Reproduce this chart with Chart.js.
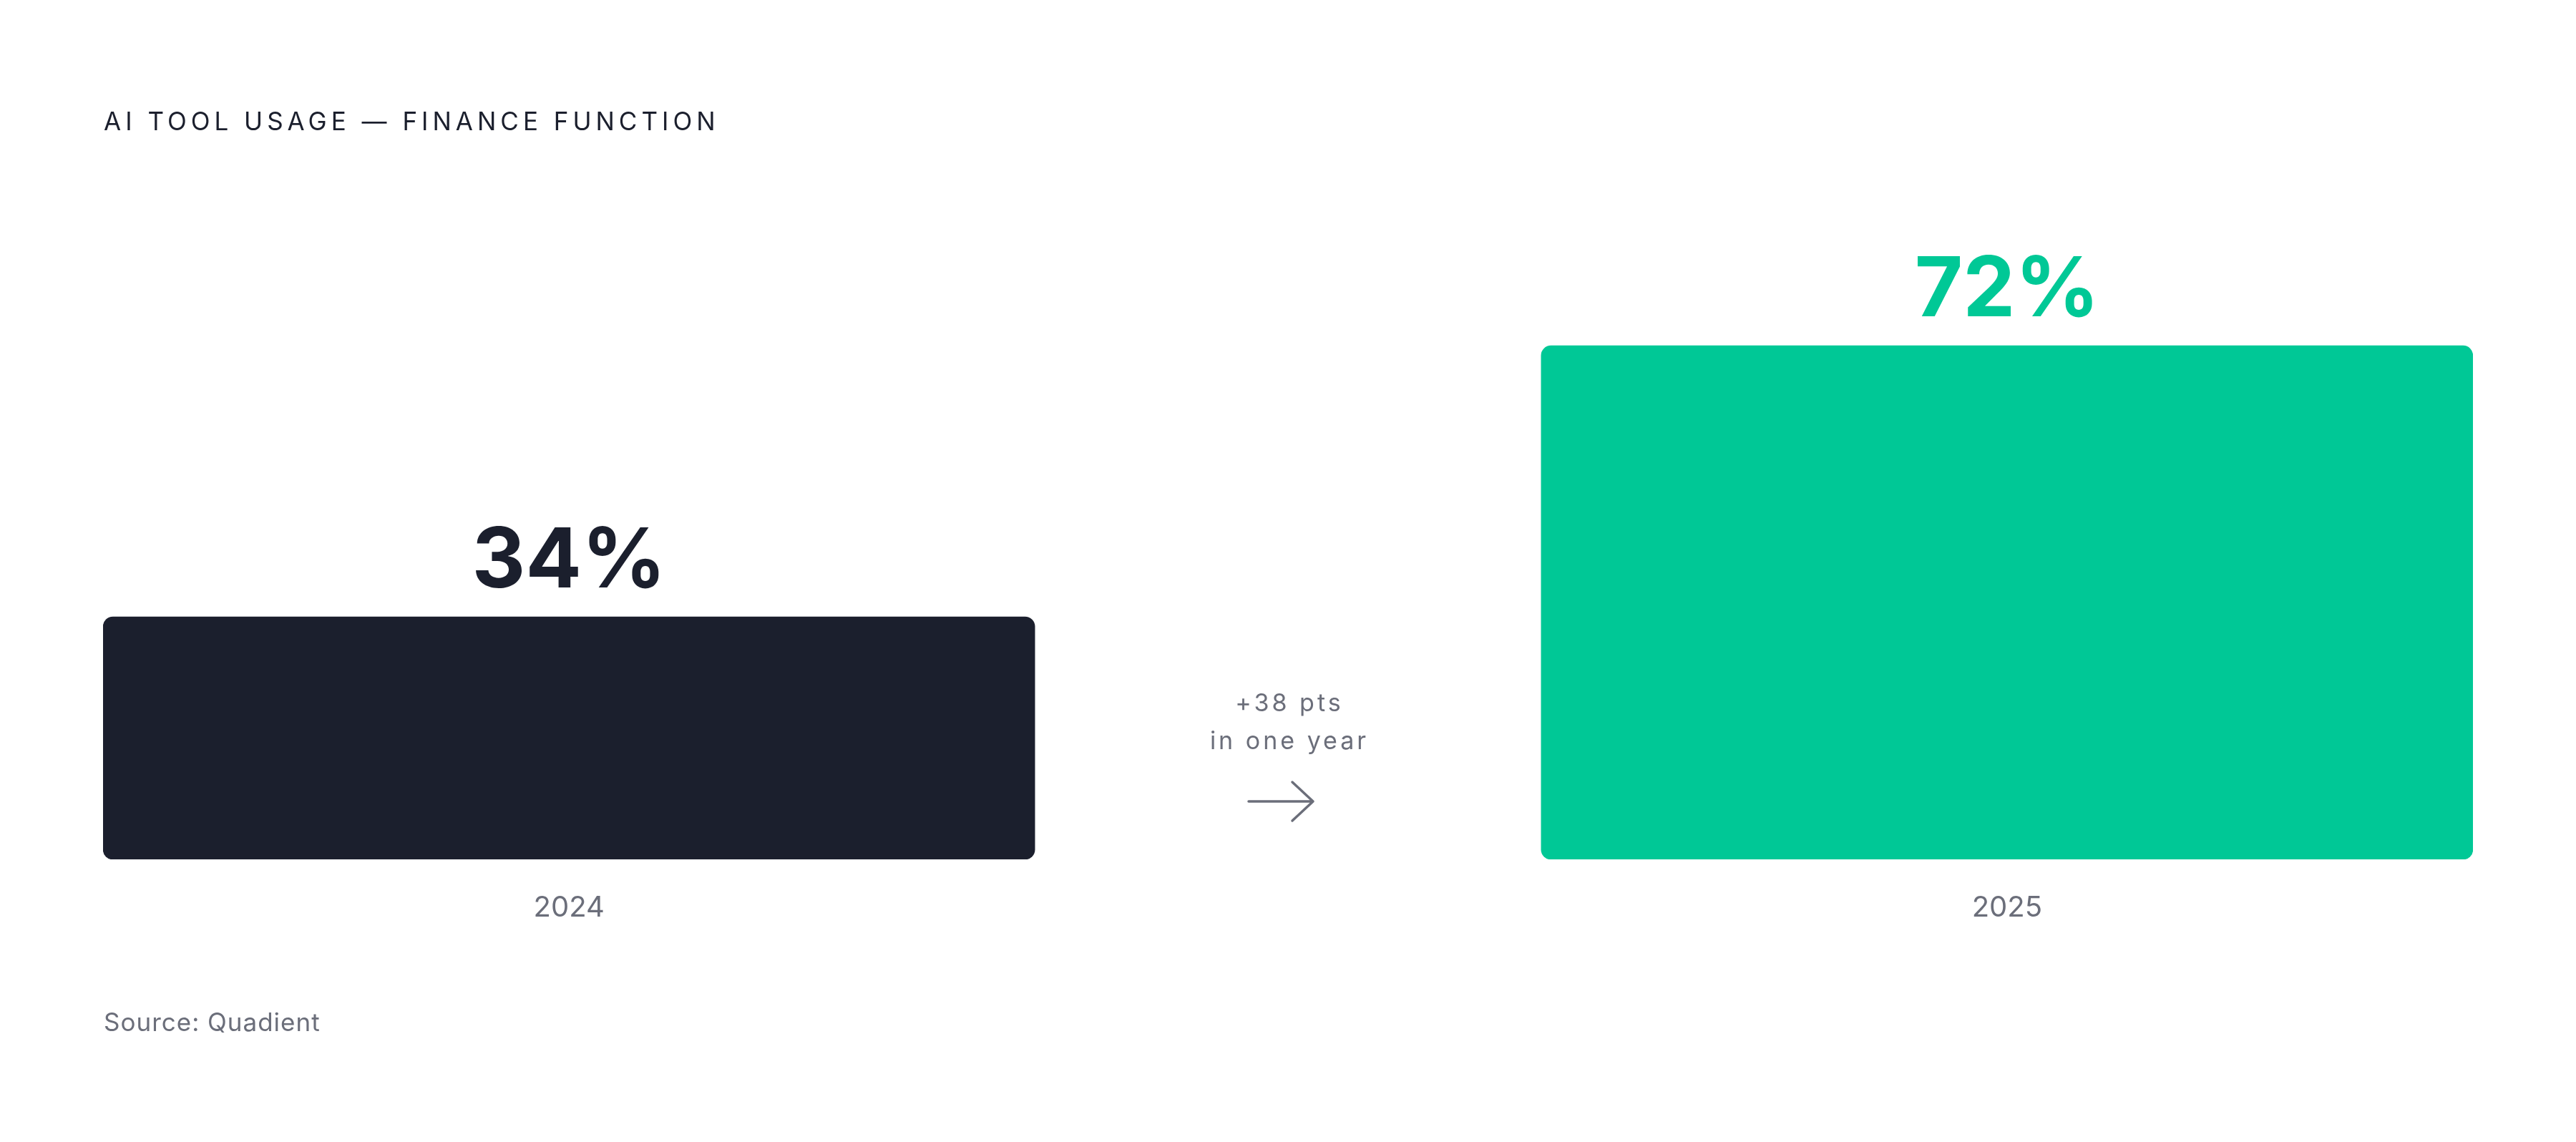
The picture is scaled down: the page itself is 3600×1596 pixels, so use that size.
<!DOCTYPE html>
<html>
<head>
<meta charset="utf-8">
<script src="https://cdn.jsdelivr.net/npm/chart.js@4.4.1/dist/chart.umd.min.js"></script>
<style>
  html, body { margin: 0; padding: 0; background: #ffffff; }
  #wrap { width: 3600px; height: 1596px; position: relative; }
</style>
</head>
<body>
<div id="wrap"><canvas id="c" width="3600" height="1596"></canvas></div>
<script>
const categories = ['2024', '2025'];
const values = [34, 72];
const barColors = ['#1B1F2D', '#00C896'];
const titleText = 'AI TOOL USAGE — FINANCE FUNCTION';
const sourceText = 'Source: Quadient';
const deltaSuffix = ' pts';
const deltaNote = 'in one year';

const FONT = 'Inter, "Noto Sans", sans-serif';
const GREY = '#6B6E7A';
const DARK = '#1B1F2D';

const decor = {
  id: 'decor',
  afterDatasetsDraw(chart) {
    const ctx = chart.ctx;
    const meta = chart.getDatasetMeta(0);
    ctx.save();
    // value labels
    ctx.textAlign = 'center';
    ctx.textBaseline = 'alphabetic';
    ctx.font = '700 116px ' + FONT;
    ctx.letterSpacing = '0px';
    meta.data.forEach((bar, i) => {
      ctx.fillStyle = barColors[i];
      ctx.fillText(values[i] + '%', bar.x, bar.y - 41);
    });
    // title
    ctx.textAlign = 'left';
    ctx.fillStyle = DARK;
    ctx.font = '400 35px ' + FONT;
    ctx.letterSpacing = '6px';
    ctx.fillText(titleText, 145, 182);
    // source
    ctx.fillStyle = GREY;
    ctx.font = '400 35px ' + FONT;
    ctx.letterSpacing = '1px';
    ctx.fillText(sourceText, 145, 1441);
    // delta note between bars
    const mid = (meta.data[0].x + meta.data[1].x) / 2;
    ctx.textAlign = 'center';
    ctx.font = '400 34px ' + FONT;
    ctx.letterSpacing = '4px';
    const delta = values[1] - values[0];
    ctx.fillText('+' + delta + deltaSuffix, mid + 2, 994);
    ctx.fillText(deltaNote, mid + 2, 1047);
    // arrow
    ctx.strokeStyle = GREY;
    ctx.lineWidth = 3.5;
    ctx.lineCap = 'round';
    ctx.lineJoin = 'round';
    const ax0 = mid - 55, ax1 = mid + 35, ay = 1120;
    ctx.beginPath();
    ctx.moveTo(ax0, ay);
    ctx.lineTo(ax1, ay);
    ctx.moveTo(ax1 - 29, ay - 27);
    ctx.lineTo(ax1, ay);
    ctx.lineTo(ax1 - 29, ay + 27);
    ctx.stroke();
    ctx.restore();
  }
};

new Chart(document.getElementById('c'), {
  type: 'bar',
  data: {
    datasets: [{
      data: values.map((v, i) => ({ x: i, y: v })),
      backgroundColor: barColors,
      borderRadius: 14,
      borderSkipped: false,
      barThickness: 1302
    }]
  },
  options: {
    responsive: false,
    animation: false,
    devicePixelRatio: 1,
    layout: { padding: { top: 204, left: 144, right: 144, bottom: 295 } },
    plugins: { legend: { display: false }, tooltip: { enabled: false }, title: { display: false } },
    scales: {
      x: {
        type: 'linear',
        offset: false,
        min: -0.324,
        max: 1.324,
        grid: { display: false, drawTicks: false },
        border: { display: false },
        afterFit(scale) { scale.height = 100; },
        afterBuildTicks(scale) { scale.ticks = categories.map((c, i) => ({ value: i })); },
        ticks: {
          padding: 44,
          color: GREY,
          font: { family: FONT, size: 40, weight: '400' },
          callback: (v) => categories[v] ?? ''
        }
      },
      y: {
        display: false,
        min: 0,
        max: 100
      }
    }
  },
  plugins: [decor]
});
</script>
</body>
</html>
